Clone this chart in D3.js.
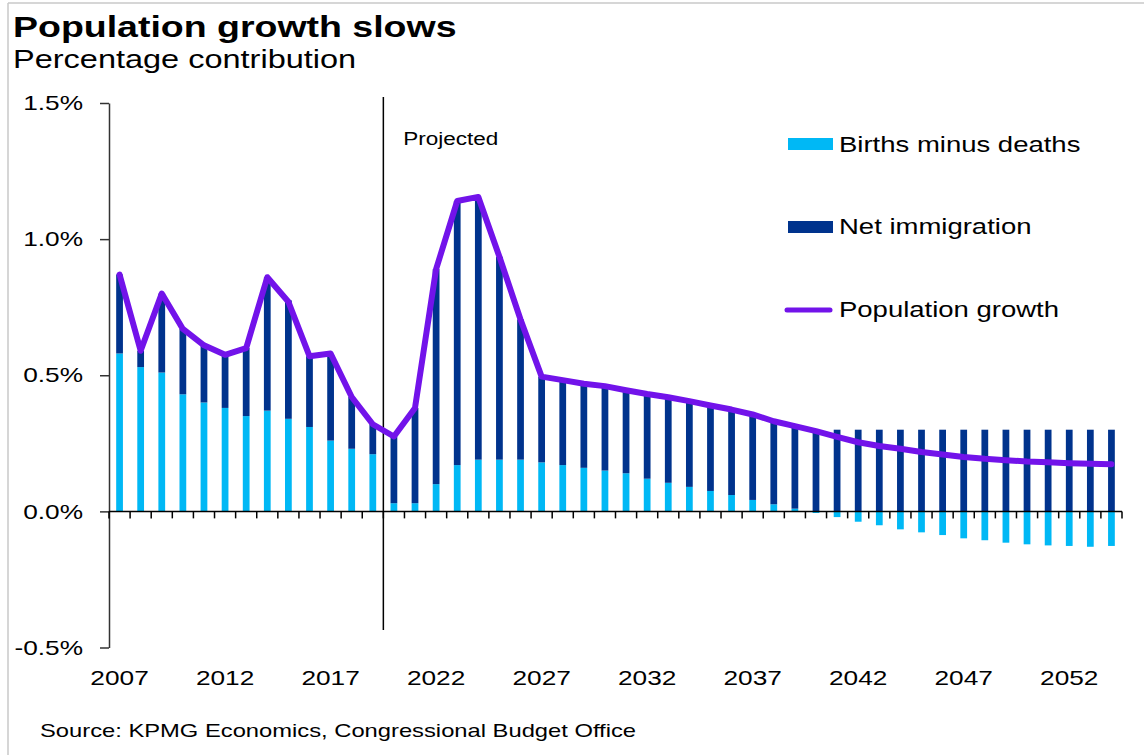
<!DOCTYPE html>
<html>
<head>
<meta charset="utf-8">
<script src="https://cdn.jsdelivr.net/npm/d3@7/dist/d3.min.js"></script>
<style>
    body { margin: 0; background: #fff; }
    svg { display: block; font-family: "Liberation Sans", Arial, sans-serif; }
</style>
</head>
<body>
<div id="chart"></div>
<script>
// years 2007 - 2054, projections start in 2020
var years = d3.range(2007, 2055);
var projectedFrom = 2020;
var yTicks = [-0.5, 0, 0.5, 1.0, 1.5];
var xLabels = [2007, 2012, 2017, 2022, 2027, 2032, 2037, 2042, 2047, 2052];

// percentage contribution
var births = [0.58, 0.53, 0.51, 0.43, 0.40, 0.38, 0.35, 0.37, 0.34, 0.31, 0.26, 0.23, 0.21,
    0.03, 0.03, 0.10, 0.17, 0.19, 0.19, 0.19, 0.18, 0.17, 0.16, 0.15, 0.14, 0.12, 0.105, 0.09, 0.075, 0.06, 0.042, 0.026, 0.01,
    -0.006, -0.021, -0.038, -0.051, -0.066, -0.077, -0.087, -0.099, -0.106, -0.115, -0.121, -0.125, -0.127, -0.13, -0.127];
var immigration = [0.29, 0.06, 0.29, 0.24, 0.21, 0.195, 0.25, 0.49, 0.435, 0.26, 0.315, 0.19, 0.11,
    0.245, 0.35, 0.79, 0.97, 0.96, 0.745, 0.515, 0.315, 0.31, 0.31, 0.31, 0.31, 0.31, 0.315, 0.315, 0.315, 0.315, 0.315, 0.305, 0.303,
    0.30, 0.30, 0.30, 0.30, 0.30, 0.30, 0.30, 0.30, 0.30, 0.30, 0.30, 0.30, 0.30, 0.30, 0.30];
var popGrowth = [0.87, 0.59, 0.80, 0.67, 0.61, 0.575, 0.60, 0.86, 0.77, 0.57, 0.58, 0.42, 0.32,
    0.275, 0.38, 0.89, 1.14, 1.155, 0.935, 0.705, 0.495, 0.482, 0.469, 0.46, 0.445, 0.431, 0.419, 0.405, 0.389, 0.374, 0.356, 0.331, 0.313,
    0.295, 0.274, 0.254, 0.240, 0.230, 0.218, 0.209, 0.200, 0.193, 0.188, 0.183, 0.180, 0.177, 0.175, 0.173];

var w = 1144, h = 755;
var lightBlue = "#00B8F5", darkBlue = "#00338D", purple = "#7213EA";
var stretch = 1.25; // the original text is drawn wide

var svg = d3.select("#chart")
    .append("svg")
    .attr("width", w)
    .attr("height", h);

// frame lines at top and left
svg.append("line").attr("x1", 8).attr("x2", w).attr("y1", 3).attr("y2", 3)
    .style("stroke", "#c8c8c8").style("stroke-width", 1.5);
svg.append("line").attr("x1", 8).attr("x2", 8).attr("y1", 3).attr("y2", h)
    .style("stroke", "#c8c8c8").style("stroke-width", 1.5);

function addText(x, y, str, size, weight, anchor) {
    return svg.append("text")
        .attr("transform", `translate(${x},${y}) scale(${stretch},1)`)
        .attr("font-size", size + "px")
        .attr("font-weight", weight || "normal")
        .attr("text-anchor", anchor || "start")
        .attr("fill", "#000")
        .text(str);
}

addText(13, 37, "Population growth slows", 30, "bold");
addText(13, 68, "Percentage contribution", 26);
addText(40, 737, "Source: KPMG Economics, Congressional Budget Office", 19);

var x = d3.scaleBand()
    .domain(years)
    .range([109, 1122])
    .paddingInner(0.68)
    .paddingOuter(0.34);

var y = d3.scaleLinear()
    .domain([-0.5, 1.5])
    .range([647.5, 103]);

var table = years.map((d, i) => ({ year: d, births: births[i], immigration: immigration[i], pop: popGrowth[i] }));

var series = d3.stack()
    .keys(["births", "immigration"])
    .offset(d3.stackOffsetDiverging)(table);

var color = d3.scaleOrdinal()
    .domain(["births", "immigration"])
    .range([lightBlue, darkBlue]);

// bars
svg.append("g")
    .selectAll("g")
    .data(series)
    .enter()
    .append("g")
    .attr("fill", (d) => color(d.key))
    .selectAll("rect")
    .data((d) => d)
    .enter()
    .append("rect")
    .attr("x", (d) => x(d.data.year))
    .attr("width", x.bandwidth())
    .attr("y", (d) => y(Math.max(d[0], d[1])))
    .attr("height", (d) => Math.abs(y(d[0]) - y(d[1])));

// y axis
var yAxis = svg.append("g")
    .attr("transform", "translate(109,0)")
    .call(d3.axisLeft(y).tickValues(yTicks).tickSize(9).tickSizeOuter(0)
        .tickFormat((d) => d.toFixed(1) + "%"));
yAxis.selectAll("path, line").style("stroke", "#333").style("stroke-width", 1.5);
yAxis.selectAll("text")
    .attr("font-size", "21px")
    .attr("fill", "#000")
    .attr("x", -26 / stretch)
    .attr("transform", `scale(${stretch},1)`);

// x axis line at zero with ticks on category boundaries
var halfGap = x.step() * x.paddingInner() / 2;
var bounds = years.map((d) => x(d) - halfGap).concat([x.range()[1]]);
var xAxis = svg.append("g");
xAxis.append("line")
    .attr("x1", x.range()[0]).attr("x2", x.range()[1])
    .attr("y1", y(0)).attr("y2", y(0))
    .style("stroke", "#000").style("stroke-width", 1.5);
xAxis.selectAll(".tick")
    .data(bounds)
    .enter()
    .append("line")
    .attr("x1", (d) => d).attr("x2", (d) => d)
    .attr("y1", y(0)).attr("y2", y(0) + 7)
    .style("stroke", "#000").style("stroke-width", 1.5);

// year labels along the bottom
var xLab = svg.append("g")
    .attr("transform", "translate(0,660)")
    .call(d3.axisBottom(x).tickValues(xLabels).tickSize(0).tickPadding(10));
xLab.select(".domain").remove();
xLab.selectAll("text")
    .attr("font-size", "21px")
    .attr("fill", "#000")
    .attr("transform", `scale(${stretch},1)`)
    .attr("x", function () { return 0; });
// keep labels centred on their band after horizontal scaling
xLab.selectAll(".tick")
    .attr("transform", (d) => `translate(${x(d) + x.bandwidth() / 2},0)`);

// projected divider
var divX = x(projectedFrom) - halfGap;
svg.append("line")
    .attr("x1", divX).attr("x2", divX)
    .attr("y1", 97).attr("y2", 630)
    .style("stroke", "#000").style("stroke-width", 1.5);
addText(divX + 20, 145, "Projected", 18);

// population growth line
var line = d3.line()
    .x((d) => x(d.year) + x.bandwidth() / 2)
    .y((d) => y(d.pop));

svg.append("path")
    .datum(table)
    .attr("d", line)
    .style("fill", "none")
    .style("stroke", purple)
    .style("stroke-width", 6)
    .style("stroke-linejoin", "round")
    .style("stroke-linecap", "round");

// legend
var legend = svg.append("g");
legend.append("rect").attr("x", 788).attr("y", 138).attr("width", 45).attr("height", 12).attr("fill", lightBlue);
legend.append("rect").attr("x", 788).attr("y", 221).attr("width", 45).attr("height", 12).attr("fill", darkBlue);
legend.append("line").attr("x1", 787).attr("x2", 830).attr("y1", 310).attr("y2", 310)
    .style("stroke", purple).style("stroke-width", 5).style("stroke-linecap", "round");
addText(839, 152, "Births minus deaths", 22);
addText(839, 234, "Net immigration", 22);
addText(839, 317, "Population growth", 22);
</script>
</body>
</html>
